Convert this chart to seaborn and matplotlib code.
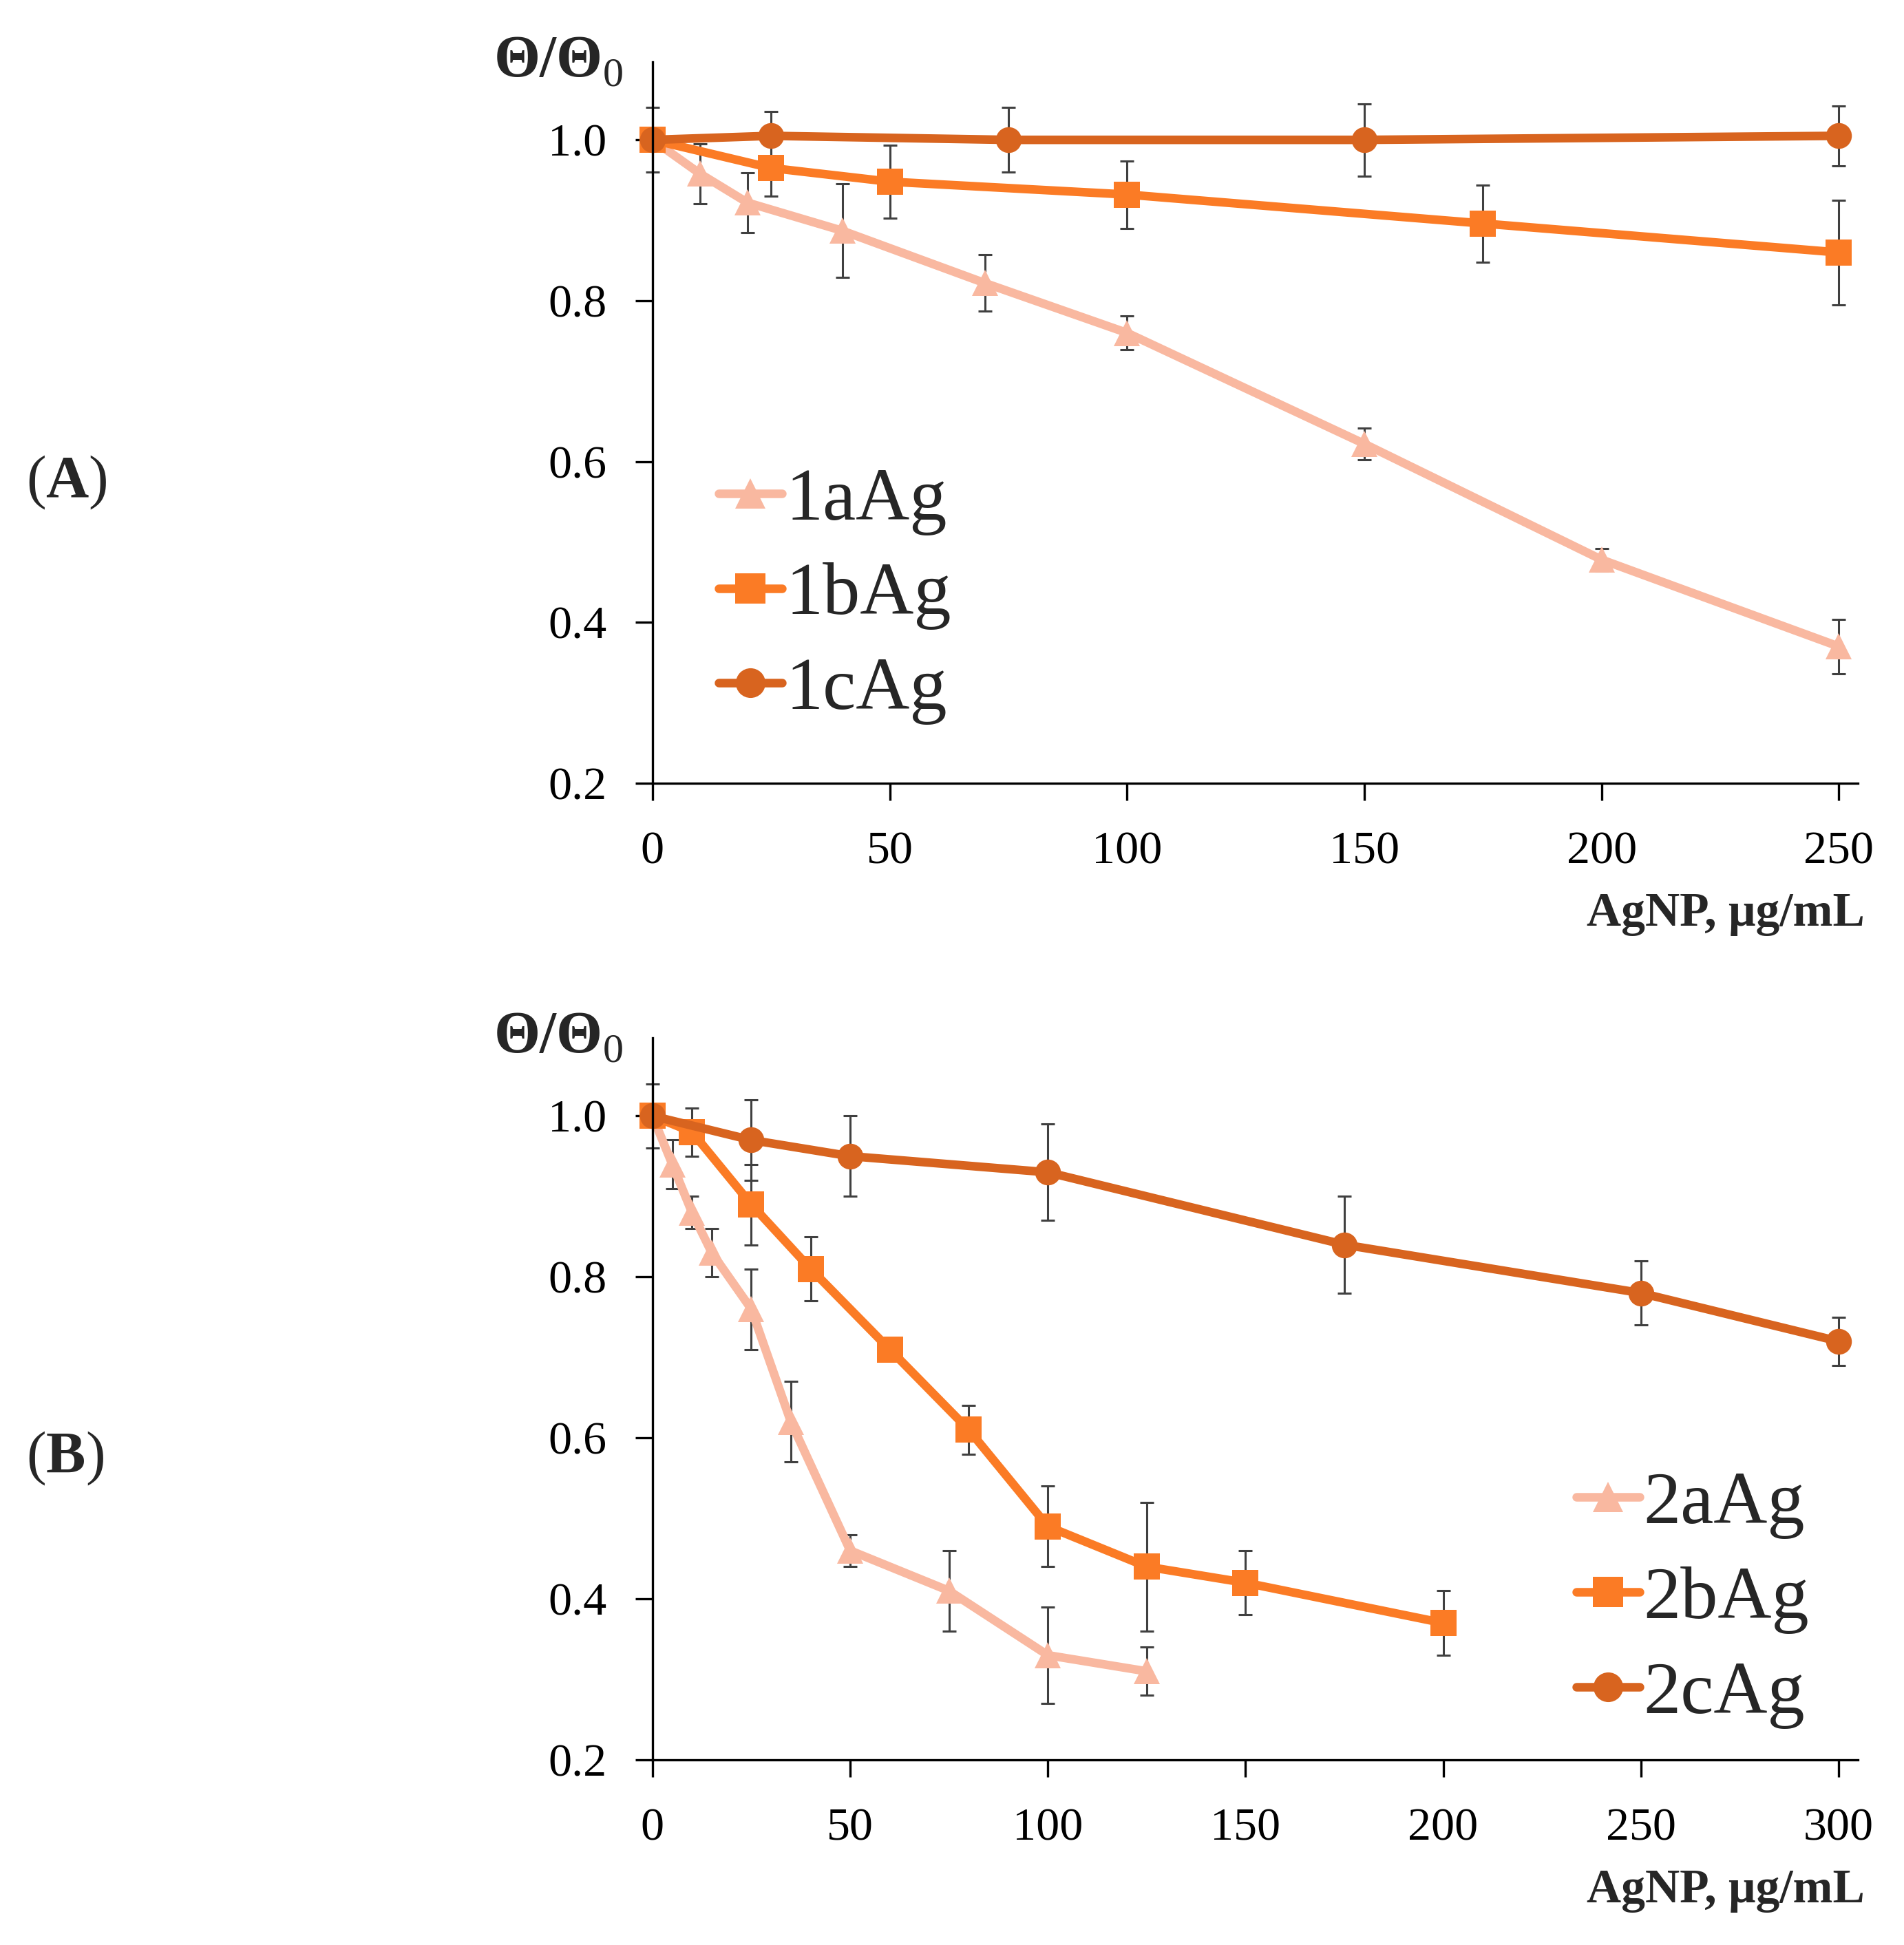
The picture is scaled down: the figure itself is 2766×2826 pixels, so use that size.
import numpy as np
import pandas as pd
import seaborn as sns
import matplotlib.pyplot as plt

# ---- data ----
# panel A
a1_x = [0, 10, 20, 40, 70, 100, 150, 200, 250]
a1_y = [1.0, 0.958, 0.922, 0.887, 0.822, 0.760, 0.622, 0.478, 0.370]
a1_err = [0, 0.037, 0.037, 0.058, 0.035, 0.021, 0.020, 0.014, 0.034]

b1_x = [0, 25, 50, 100, 175, 250]
b1_y = [1.0, 0.965, 0.948, 0.932, 0.896, 0.860]
b1_err = [0, 0.035, 0.045, 0.042, 0.048, 0.065]

c1_x = [0, 25, 75, 150, 250]
c1_y = [1.0, 1.005, 1.0, 1.0, 1.005]
c1_err = [0.04, 0.030, 0.040, 0.045, 0.037]

# panel B
a2_x = [0, 5, 10, 15, 25, 35, 50, 75, 100, 125]
a2_y = [1.0, 0.94, 0.88, 0.83, 0.76, 0.62, 0.46, 0.41, 0.33, 0.31]
a2_err = [0, 0.03, 0.02, 0.03, 0.05, 0.05, 0.02, 0.05, 0.06, 0.03]

b2_x = [0, 10, 25, 40, 60, 80, 100, 125, 150, 200]
b2_y = [1.0, 0.98, 0.89, 0.81, 0.71, 0.61, 0.49, 0.44, 0.42, 0.37]
b2_err = [0.04, 0.03, 0.05, 0.04, 0, 0.03, 0.05, 0.08, 0.04, 0.04]

c2_x = [0, 25, 50, 100, 175, 250, 300]
c2_y = [1.0, 0.97, 0.95, 0.93, 0.84, 0.78, 0.72]
c2_err = [0, 0.05, 0.05, 0.06, 0.06, 0.04, 0.03]

names_A = ['1aAg', '1bAg', '1cAg']
names_B = ['2aAg', '2bAg', '2cAg']
y_ticks = [0.2, 0.4, 0.6, 0.8, 1.0]
y_labels = ['0.2', '0.4', '0.6', '0.8', '1.0']
x_ticks_A = [0, 50, 100, 150, 200, 250]
x_ticks_B = [0, 50, 100, 150, 200, 250, 300]

colors = ['#F9B8A0', '#FB7B25', '#D8641F']
marker_list = ['^', 's', 'o']

sns.set_style('ticks')
plt.rcParams['font.family'] = ['Liberation Serif', 'DejaVu Serif']
plt.rcParams['mathtext.fontset'] = 'custom'
plt.rcParams['mathtext.rm'] = 'Liberation Serif'
plt.rcParams['mathtext.bf'] = 'Liberation Serif:bold'


def make_df(names, xs, ys, errs):
    parts = []
    for n, x, y, e in zip(names, xs, ys, errs):
        parts.append(pd.DataFrame({'conc': x, 'ratio': y, 'err': e, 'sample': n}))
    return pd.concat(parts, ignore_index=True)


df_A = make_df(names_A, [a1_x, b1_x, c1_x], [a1_y, b1_y, c1_y], [a1_err, b1_err, c1_err])
df_B = make_df(names_B, [a2_x, b2_x, c2_x], [a2_y, b2_y, c2_y], [a2_err, b2_err, c2_err])

fig = plt.figure(figsize=(27.66, 28.26), dpi=100)
ax_A = fig.add_axes([0.3427, 0.5973, 0.6331, 0.3709])
ax_B = fig.add_axes([0.3427, 0.0952, 0.6331, 0.3712])


def draw_panel(ax, df, names, xmax, xticks, leg_anchor):
    pal = dict(zip(names, colors))
    mk = dict(zip(names, marker_list))
    # error bars behind the lines
    for n in names:
        sub = df[(df['sample'] == n) & (df['err'] > 0)]
        ax.errorbar(sub['conc'], sub['ratio'], yerr=sub['err'], fmt='none',
                    ecolor='#404040', elinewidth=2.2, capsize=7, capthick=2.2,
                    zorder=1.5, clip_on=False)
    sns.lineplot(data=df, x='conc', y='ratio', hue='sample', style='sample',
                 hue_order=names, style_order=names, palette=pal, markers=mk,
                 dashes=False, linewidth=9, markersize=27, markeredgewidth=0,
                 ax=ax, zorder=2)
    for ln in ax.lines:
        ln.set_clip_on(False)

    ax.set_xlim(0, xmax)
    ax.set_ylim(0.2, 1.097)
    ax.set_xticks(xticks)
    ax.set_xticklabels([str(t) for t in xticks])
    ax.set_yticks(y_ticks)
    ax.set_yticklabels(y_labels)
    ax.set_xlabel('')
    ax.set_ylabel('')
    sns.despine(ax=ax)
    for s in ['left', 'bottom']:
        ax.spines[s].set_linewidth(2.4)
        ax.spines[s].set_color('black')
    ax.tick_params(axis='both', direction='out', length=18, width=2.4,
                   labelsize=49, colors='black')
    ax.tick_params(axis='x', pad=32)
    ax.tick_params(axis='y', pad=30)

    handles, labels = ax.get_legend_handles_labels()
    ax.legend(handles, labels, loc='upper left', bbox_to_anchor=leg_anchor,
              bbox_transform=fig.transFigure, frameon=False, fontsize=78,
              handlelength=0.85, handletextpad=0.05, labelspacing=0.36,
              borderpad=0, borderaxespad=0, markerscale=1.15)


draw_panel(ax_A, df_A, names_A, 254, x_ticks_A, (0.3774, 0.7598))
draw_panel(ax_B, df_B, names_B, 304.9, x_ticks_B, (0.8279, 0.2438))

# axis titles placed like the original (y label above the axis, x label under the right end)
for top_px, xlab_px in [(110, 1345), (1528, 2764)]:
    fig.text(905 / 2766, 1 - top_px / 2826, r'$\mathbf{Θ/Θ}_{\mathrm{0}}$',
             ha='right', va='baseline', fontsize=62)
    fig.text(2709 / 2766, 1 - xlab_px / 2826, 'AgNP, μg/mL', ha='right',
             va='baseline', fontsize=50, fontweight='bold')

# panel letters
for lab, base_px in [('A', 722), ('B', 2140)]:
    fig.text(38 / 2766, 1 - base_px / 2826, '($\\mathbf{' + lab + '}$)',
             ha='left', va='baseline', fontsize=62)

fig.savefig('out.png', dpi=100, facecolor='white')
